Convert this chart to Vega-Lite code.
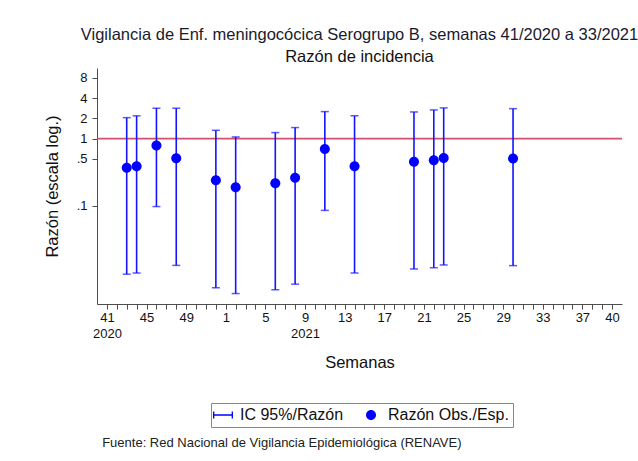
{
  "$schema": "https://vega.github.io/schema/vega-lite/v6.json",
  "background": "white",
  "padding": {"left": 44, "top": 27, "right": 10, "bottom": 6},
  "config": {
    "view": {"stroke": null},
    "font": "Liberation Sans",
    "axis": {
      "domainColor": "#4d4d4d",
      "tickColor": "#4d4d4d",
      "labelColor": "#111111",
      "titleColor": "#111111",
      "labelFont": "Liberation Sans",
      "titleFont": "Liberation Sans",
      "labelFontSize": 13,
      "titleFontSize": 16.5,
      "titleFontWeight": "normal",
      "grid": false,
      "ticks": true,
      "tickSize": 5,
      "tickWidth": 1
    }
  },
  "title": {
    "text": "Fuente: Red Nacional de Vigilancia Epidemiológica (RENAVE)",
    "orient": "bottom",
    "anchor": "start",
    "font": "Liberation Sans",
    "fontSize": 13,
    "fontWeight": "normal",
    "color": "#222222",
    "offset": 9,
    "dx": 58
  },
  "datasets": {
    "razon": [
      {"n": 2, "semana": 43, "anio": 2020, "razon": 0.37, "ic_inf": 0.0097, "ic_sup": 2.05},
      {"n": 3, "semana": 44, "anio": 2020, "razon": 0.39, "ic_inf": 0.0101, "ic_sup": 2.18},
      {"n": 5, "semana": 46, "anio": 2020, "razon": 0.79, "ic_inf": 0.098, "ic_sup": 2.83},
      {"n": 7, "semana": 48, "anio": 2020, "razon": 0.51, "ic_inf": 0.0131, "ic_sup": 2.83},
      {"n": 11, "semana": 52, "anio": 2020, "razon": 0.24, "ic_inf": 0.0061, "ic_sup": 1.33},
      {"n": 13, "semana": 2, "anio": 2021, "razon": 0.19, "ic_inf": 0.0050, "ic_sup": 1.06},
      {"n": 17, "semana": 6, "anio": 2021, "razon": 0.217, "ic_inf": 0.0057, "ic_sup": 1.23},
      {"n": 19, "semana": 8, "anio": 2021, "razon": 0.263, "ic_inf": 0.0069, "ic_sup": 1.46},
      {"n": 22, "semana": 11, "anio": 2021, "razon": 0.70, "ic_inf": 0.086, "ic_sup": 2.52},
      {"n": 25, "semana": 14, "anio": 2021, "razon": 0.39, "ic_inf": 0.0101, "ic_sup": 2.18},
      {"n": 31, "semana": 20, "anio": 2021, "razon": 0.455, "ic_inf": 0.0116, "ic_sup": 2.49},
      {"n": 33, "semana": 22, "anio": 2021, "razon": 0.477, "ic_inf": 0.0121, "ic_sup": 2.67},
      {"n": 34, "semana": 23, "anio": 2021, "razon": 0.517, "ic_inf": 0.0133, "ic_sup": 2.86},
      {"n": 41, "semana": 30, "anio": 2021, "razon": 0.505, "ic_inf": 0.0130, "ic_sup": 2.79}
    ],
    "referencia": [
      {"razon": 1}
    ]
  },
  "vconcat": [
    {
      "width": 525,
      "height": 236,
      "title": {
        "text": "Vigilancia de Enf. meningocócica Serogrupo B, semanas 41/2020 a 33/2021",
        "subtitle": "Razón de incidencia",
        "anchor": "middle",
        "font": "Liberation Sans",
        "fontSize": 16.5,
        "fontWeight": "normal",
        "color": "#1a1a2e",
        "subtitleFont": "Liberation Sans",
        "subtitleFontSize": 16.5,
        "subtitleColor": "#111111",
        "subtitlePadding": 5,
        "offset": 3
      },
      "layer": [
        {
          "data": {"name": "referencia"},
          "mark": {"type": "rule", "color": "#d4506e", "strokeWidth": 1.6},
          "encoding": {
            "y": {
              "field": "razon",
              "type": "quantitative",
              "title": "Razón (escala log.)",
              "scale": {"type": "log", "domain": [0.0035, 11.2], "nice": false},
              "axis": {
                "values": [0.1, 0.5, 1, 2, 4, 8],
                "labelExpr": "datum.value == 0.5 ? '.5' : datum.value == 0.1 ? '.1' : datum.label",
                "labelPadding": 5,
                "titlePadding": 16
              }
            }
          }
        },
        {
          "data": {"name": "razon"},
          "mark": {"type": "rule", "color": "#1414ff", "strokeWidth": 1.6},
          "encoding": {
            "x": {
              "field": "n",
              "type": "quantitative",
              "title": "Semanas",
              "scale": {"domain": [-1, 52], "nice": false, "zero": false},
              "axis": {
                "values": [0, 1, 2, 3, 4, 5, 6, 7, 8, 9, 10, 11, 12, 13, 14, 15, 16, 17, 18, 19, 20, 21, 22, 23, 24, 25, 26, 27, 28, 29, 30, 31, 32, 33, 34, 35, 36, 37, 38, 39, 40, 41, 42, 43, 44, 45, 46, 47, 48, 49, 50, 51],
                "labelExpr": "datum.value == 0 ? ['41', '2020'] : datum.value == 20 ? ['9', '2021'] : (datum.value % 4 == 0 || datum.value == 51) ? '' + (datum.value < 12 ? datum.value + 41 : datum.value - 11) : ''",
                "labelOverlap": false,
                "labelLineHeight": 16,
                "labelPadding": 2,
                "titlePadding": 14,
                "labelFlush": false
              }
            },
            "y": {
              "field": "ic_inf",
              "type": "quantitative",
              "title": "Razón (escala log.)",
              "scale": {"type": "log", "domain": [0.0035, 11.2], "nice": false},
              "axis": {
                "values": [0.1, 0.5, 1, 2, 4, 8],
                "labelExpr": "datum.value == 0.5 ? '.5' : datum.value == 0.1 ? '.1' : datum.label",
                "labelPadding": 5,
                "titlePadding": 16
              }
            },
            "y2": {"field": "ic_sup"}
          }
        },
        {
          "data": {"name": "razon"},
          "mark": {"type": "tick", "orient": "horizontal", "color": "#1414ff", "size": 8, "thickness": 1.5},
          "encoding": {
            "x": {
              "field": "n",
              "type": "quantitative",
              "title": "Semanas",
              "scale": {"domain": [-1, 52], "nice": false, "zero": false},
              "axis": {
                "values": [0, 1, 2, 3, 4, 5, 6, 7, 8, 9, 10, 11, 12, 13, 14, 15, 16, 17, 18, 19, 20, 21, 22, 23, 24, 25, 26, 27, 28, 29, 30, 31, 32, 33, 34, 35, 36, 37, 38, 39, 40, 41, 42, 43, 44, 45, 46, 47, 48, 49, 50, 51],
                "labelExpr": "datum.value == 0 ? ['41', '2020'] : datum.value == 20 ? ['9', '2021'] : (datum.value % 4 == 0 || datum.value == 51) ? '' + (datum.value < 12 ? datum.value + 41 : datum.value - 11) : ''",
                "labelOverlap": false,
                "labelLineHeight": 16,
                "labelPadding": 2,
                "titlePadding": 14,
                "labelFlush": false
              }
            },
            "y": {
              "field": "ic_inf",
              "type": "quantitative",
              "title": "Razón (escala log.)",
              "scale": {"type": "log", "domain": [0.0035, 11.2], "nice": false},
              "axis": {
                "values": [0.1, 0.5, 1, 2, 4, 8],
                "labelExpr": "datum.value == 0.5 ? '.5' : datum.value == 0.1 ? '.1' : datum.label",
                "labelPadding": 5,
                "titlePadding": 16
              }
            }
          }
        },
        {
          "data": {"name": "razon"},
          "mark": {"type": "tick", "orient": "horizontal", "color": "#1414ff", "size": 8, "thickness": 1.5},
          "encoding": {
            "x": {
              "field": "n",
              "type": "quantitative",
              "title": "Semanas",
              "scale": {"domain": [-1, 52], "nice": false, "zero": false},
              "axis": {
                "values": [0, 1, 2, 3, 4, 5, 6, 7, 8, 9, 10, 11, 12, 13, 14, 15, 16, 17, 18, 19, 20, 21, 22, 23, 24, 25, 26, 27, 28, 29, 30, 31, 32, 33, 34, 35, 36, 37, 38, 39, 40, 41, 42, 43, 44, 45, 46, 47, 48, 49, 50, 51],
                "labelExpr": "datum.value == 0 ? ['41', '2020'] : datum.value == 20 ? ['9', '2021'] : (datum.value % 4 == 0 || datum.value == 51) ? '' + (datum.value < 12 ? datum.value + 41 : datum.value - 11) : ''",
                "labelOverlap": false,
                "labelLineHeight": 16,
                "labelPadding": 2,
                "titlePadding": 14,
                "labelFlush": false
              }
            },
            "y": {
              "field": "ic_sup",
              "type": "quantitative",
              "title": "Razón (escala log.)",
              "scale": {"type": "log", "domain": [0.0035, 11.2], "nice": false},
              "axis": {
                "values": [0.1, 0.5, 1, 2, 4, 8],
                "labelExpr": "datum.value == 0.5 ? '.5' : datum.value == 0.1 ? '.1' : datum.label",
                "labelPadding": 5,
                "titlePadding": 16
              }
            }
          }
        },
        {
          "data": {"name": "razon"},
          "mark": {"type": "point", "filled": true, "opacity": 1, "size": 256, "color": "#0000ff"},
          "encoding": {
            "x": {
              "field": "n",
              "type": "quantitative",
              "title": "Semanas",
              "scale": {"domain": [-1, 52], "nice": false, "zero": false},
              "axis": {
                "values": [0, 1, 2, 3, 4, 5, 6, 7, 8, 9, 10, 11, 12, 13, 14, 15, 16, 17, 18, 19, 20, 21, 22, 23, 24, 25, 26, 27, 28, 29, 30, 31, 32, 33, 34, 35, 36, 37, 38, 39, 40, 41, 42, 43, 44, 45, 46, 47, 48, 49, 50, 51],
                "labelExpr": "datum.value == 0 ? ['41', '2020'] : datum.value == 20 ? ['9', '2021'] : (datum.value % 4 == 0 || datum.value == 51) ? '' + (datum.value < 12 ? datum.value + 41 : datum.value - 11) : ''",
                "labelOverlap": false,
                "labelLineHeight": 16,
                "labelPadding": 2,
                "titlePadding": 14,
                "labelFlush": false
              }
            },
            "y": {
              "field": "razon",
              "type": "quantitative",
              "title": "Razón (escala log.)",
              "scale": {"type": "log", "domain": [0.0035, 11.2], "nice": false},
              "axis": {
                "values": [0.1, 0.5, 1, 2, 4, 8],
                "labelExpr": "datum.value == 0.5 ? '.5' : datum.value == 0.1 ? '.1' : datum.label",
                "labelPadding": 5,
                "titlePadding": 16
              }
            },
            "shape": {
              "datum": "Razón Obs./Esp.",
              "type": "nominal",
              "scale": {
                "domain": ["IC 95%/Razón", "Razón Obs./Esp."],
                "range": [
                  "M-1.25,-0.1H1.25V0.1H-1.25ZM-1.25,-0.45H-1.08V0.45H-1.25ZM1.08,-0.45H1.25V0.45H1.08Z",
                  "M-0.625,0A0.625,0.625,0,1,0,0.625,0A0.625,0.625,0,1,0,-0.625,0Z"
                ]
              },
              "legend": {
                "title": null,
                "orient": "none",
                "legendX": 114,
                "legendY": 335,
                "direction": "horizontal",
                "strokeColor": "#888888",
                "fillColor": "white",
                "padding": 4,
                "symbolSize": 256,
                "symbolFillColor": "#0000ff",
                "symbolStrokeWidth": 0,
                "labelFont": "Liberation Sans",
                "labelFontSize": 16,
                "labelColor": "#111111",
                "labelOffset": 9,
                "columnPadding": 19
              }
            }
          }
        }
      ]
    }
  ]
}
